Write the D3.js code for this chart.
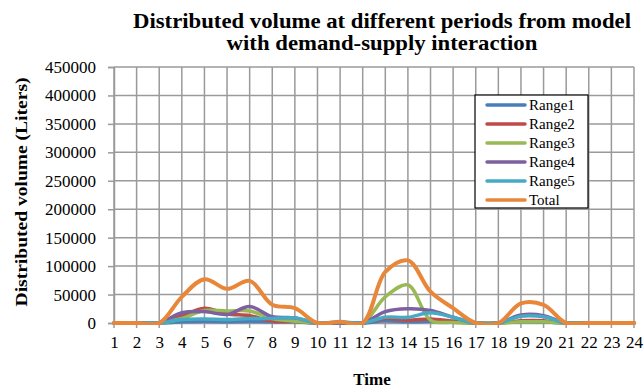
<!DOCTYPE html>
<html><head><meta charset="utf-8">
<script src="https://cdn.jsdelivr.net/npm/d3@7"></script>
<style>body{margin:0;background:#fff}svg{display:block}text{font-family:"Liberation Serif","Times New Roman",Times,serif}</style>
</head><body>
<script>
const periods = d3.range(1, 25);
const range1 = [0,0,0,2000,3000,2000,3000,2000,2000,0,0,0,4000,2000,3000,2000,0,0,2500,2000,0,0,0,0];
const range2 = [0,0,0,12000,26000,16000,13000,3000,3000,0,0,0,8000,5000,7000,3000,0,0,4000,4000,0,0,0,0];
const range3 = [0,0,0,8000,22000,21000,21000,8000,3000,0,0,0,46000,67000,5000,1000,0,0,2000,2000,0,0,0,0];
const range4 = [0,0,0,18000,20000,15000,29000,11000,9000,0,0,0,20000,25000,22000,10000,0,0,14000,13000,0,0,0,0];
const range5 = [0,0,0,6000,7000,6000,8000,8000,9000,0,2000,0,10000,10000,18000,10000,0,0,12000,11000,0,0,0,0];
const total  = [0,0,0,46000,77000,60000,74000,32000,26000,0,2000,0,90000,110000,55000,26000,0,0,34500,32000,0,0,0,0];
const yTicks = [0,50000,100000,150000,200000,250000,300000,350000,400000,450000];
const seriesNames = ["Range1","Range2","Range3","Range4","Range5","Total"];
const seriesValues = [range1, range2, range3, range4, range5, total];
const colors = ["#4A7EBB","#BE4B48","#98B954","#7D60A0","#46AAC5","#E8873A"];

const W = 644, H = 390;
const svg = d3.select("body").append("svg").attr("width", W).attr("height", H);
const pL = 114, pR = 634, pT = 67, pB = 323;
const x = d3.scalePoint().domain(periods).range([pL, pR]);
const y = d3.scaleLinear().domain([0, 450000]).range([pB, pT]);

svg.append("defs").append("clipPath").attr("id", "plotclip")
  .append("rect").attr("x", pL - 5).attr("y", pT - 10).attr("width", pR - pL + 10).attr("height", pB - pT + 12);

// gridlines
svg.append("g").selectAll("line").data(yTicks).join("line")
  .attr("x1", pL).attr("x2", pR).attr("y1", d => y(d)).attr("y2", d => y(d))
  .attr("stroke", "#9a9a9a").attr("stroke-width", 1.5);
svg.append("g").selectAll("line").data(periods).join("line")
  .attr("x1", d => x(d)).attr("x2", d => x(d)).attr("y1", pT).attr("y2", pB + 5)
  .attr("stroke", "#9a9a9a").attr("stroke-width", 1.5);

// y axis
const yAxis = svg.append("g").attr("transform", `translate(${pL},0)`)
  .call(d3.axisLeft(y).tickValues(yTicks).tickSize(6).tickPadding(12).tickFormat(d3.format("d")));
yAxis.select(".domain").attr("stroke", "#9a9a9a").attr("stroke-width", 1.5);
yAxis.selectAll(".tick line").attr("stroke", "#9a9a9a").attr("stroke-width", 1.5);
yAxis.selectAll("text").attr("font-size", 17).attr("fill", "#000");

// x axis
const xAxis = svg.append("g").attr("transform", `translate(0,${pB})`)
  .call(d3.axisBottom(x).tickSize(0).tickPadding(13));
xAxis.select(".domain").attr("stroke", "#9a9a9a").attr("stroke-width", 1.5);
xAxis.selectAll("text").attr("font-size", 17).attr("fill", "#000");
svg.selectAll("g").attr("font-family", null);

// lines
const line = d3.line().x((d, i) => x(periods[i])).y(d => y(d)).curve(d3.curveCatmullRom.alpha(0.5));
const lines = svg.append("g").attr("clip-path", "url(#plotclip)");
seriesValues.forEach((vals, k) => {
  lines.append("path").datum(vals).attr("d", line).attr("fill", "none")
    .attr("stroke", colors[k]).attr("stroke-width", k === 5 ? 4 : 3.5)
    .attr("stroke-linejoin", "round").attr("stroke-linecap", "round");
});

// legend
const lg = svg.append("g");
lg.append("rect").attr("x", 475).attr("y", 95).attr("width", 113).attr("height", 113)
  .attr("fill", "#fff").attr("stroke", "#000").attr("stroke-width", 1.2);
seriesNames.forEach((n, k) => {
  const yy = 105 + k * 19;
  lg.append("line").attr("x1", 487).attr("x2", 525).attr("y1", yy).attr("y2", yy)
    .attr("stroke", colors[k]).attr("stroke-width", 3.5).attr("stroke-linecap", "round");
  lg.append("text").attr("x", 529).attr("y", yy + 5).text(n)
    .attr("font-size", 15).attr("fill", "#000");
});

// titles
const t1 = svg.append("text").attr("text-anchor", "middle").attr("x", 382).attr("y", 28)
  .attr("font-weight", "bold").attr("font-size", 21).text("Distributed volume at different periods from model");
const t2 = svg.append("text").attr("text-anchor", "middle").attr("x", 382).attr("y", 50)
  .attr("font-weight", "bold").attr("font-size", 21).text("with demand-supply interaction");
const w1 = t1.node().getComputedTextLength();
const ratio = 498 / w1;
t1.attr("textLength", 498).attr("lengthAdjust", "spacingAndGlyphs");
t2.attr("textLength", t2.node().getComputedTextLength() * ratio).attr("lengthAdjust", "spacingAndGlyphs");

svg.append("text").attr("transform", "translate(27,192) rotate(-90)").attr("text-anchor", "middle")
  .attr("font-weight", "bold").attr("font-size", 17)
  .attr("textLength", 229).attr("lengthAdjust", "spacingAndGlyphs").text("Distributed volume (Liters)");
svg.append("text").attr("x", 372).attr("y", 385).attr("text-anchor", "middle")
  .attr("font-weight", "bold").attr("font-size", 17).text("Time");
</script>
</body></html>
